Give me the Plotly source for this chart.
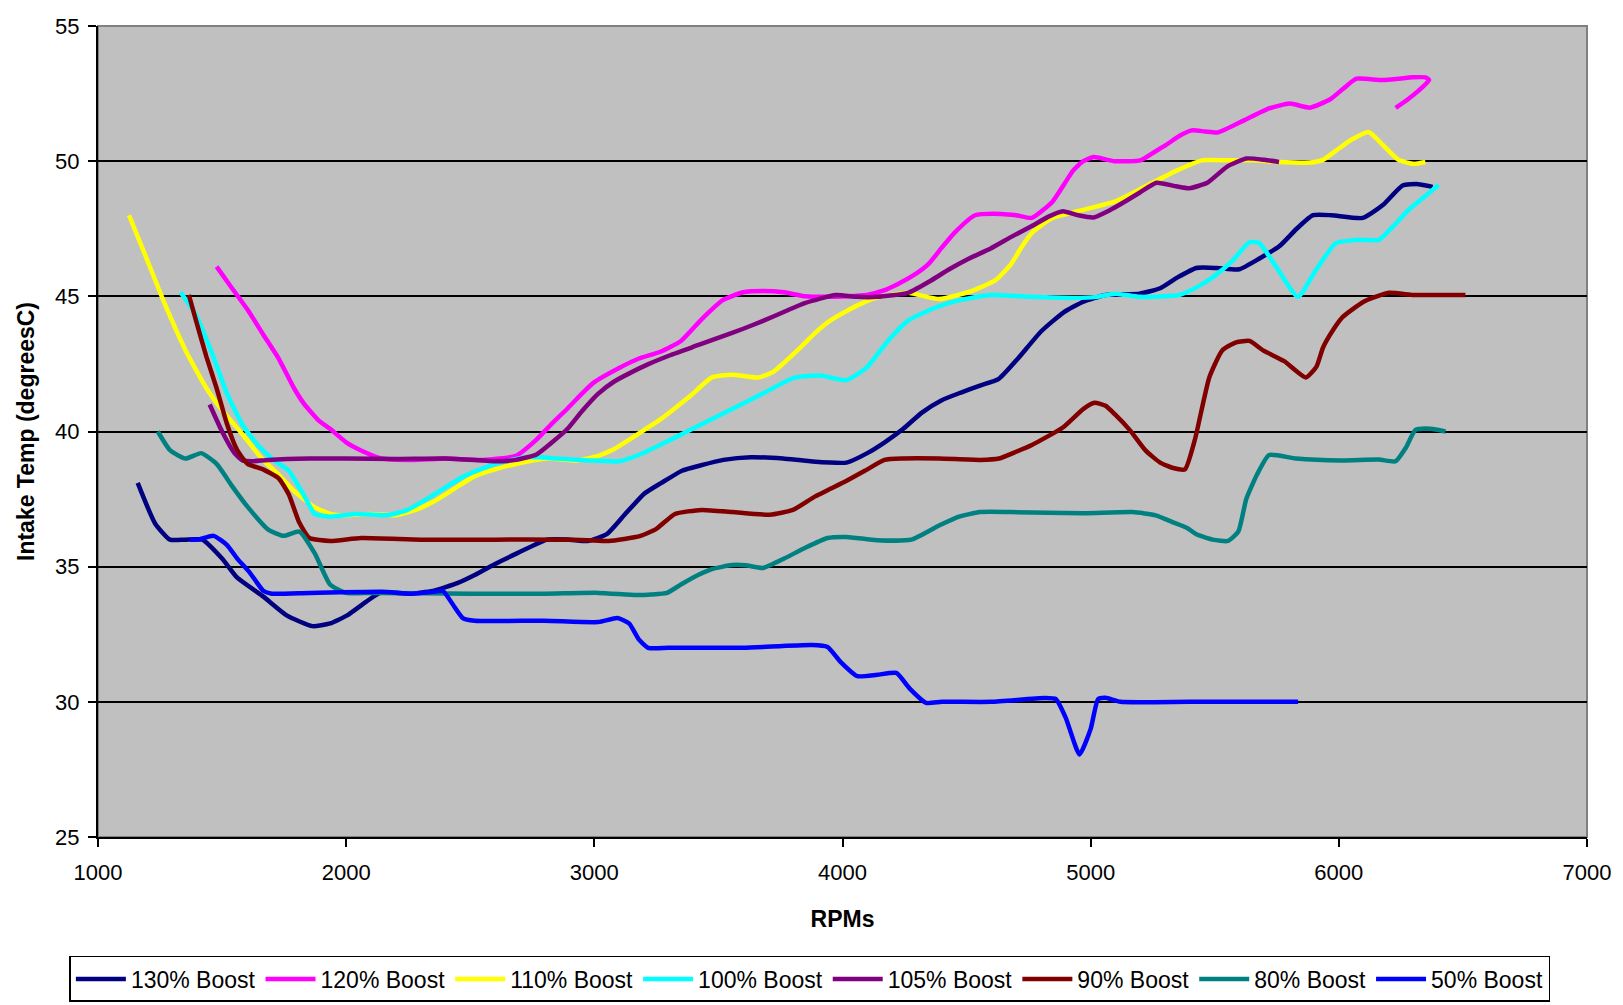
import plotly.graph_objects as go

# Intake air temperature vs engine speed for several boost settings
rpm_130 = [1160, 1230, 1290, 1350, 1420, 1500, 1560, 1665, 1760, 1864, 1935, 2004, 2080, 2140, 2250, 2350, 2450, 2520, 2600, 2690,
           2810, 2900, 2975, 3050, 3120, 3201, 3270, 3353, 3430, 3520, 3630, 3760, 3870, 4016, 4100, 4170, 4245, 4320, 4398, 4480,
           4554, 4630, 4707, 4800, 4890, 4970, 5060, 5197, 5280, 5350, 5426, 5510, 5598, 5680, 5760, 5830, 5896, 5970, 6096, 6180,
           6257, 6320, 6378]
temp_130 = [38.1, 36.6, 36.0, 36.0, 36.0, 35.3, 34.6, 33.9, 33.2, 32.8, 32.9, 33.2, 33.7, 34.05, 34.0, 34.1, 34.4, 34.7, 35.1, 35.5,
            36.0, 36.0, 35.95, 36.2, 36.9, 37.7, 38.1, 38.55, 38.75, 38.95, 39.05, 39.0, 38.9, 38.85, 39.2, 39.6, 40.1, 40.7, 41.15, 41.45,
            41.7, 41.95, 42.7, 43.7, 44.4, 44.8, 45.05, 45.1, 45.3, 45.7, 46.05, 46.05, 46.0, 46.4, 46.85, 47.5, 48.0, 48.0, 47.9, 48.4,
            49.1, 49.15, 49.05]

rpm_120 = [1478, 1540, 1603, 1665, 1728, 1790, 1832, 1890, 1935, 2000, 2060, 2143, 2268, 2400, 2550, 2684, 2767, 2830, 2892, 2950,
           2996, 3100, 3180, 3266, 3349, 3432, 3516, 3599, 3680, 3765, 3850, 3931, 4020, 4098, 4160, 4222, 4290, 4347, 4400, 4451,
           4534, 4638, 4700, 4763, 4846, 4890, 4929, 4970, 5012, 5096, 5200, 5250, 5304, 5360, 5408, 5460, 5512, 5616, 5719, 5802,
           5884, 5967, 6020, 6071, 6175, 6299, 6349, 6364, 6320, 6280, 6229]
temp_120 = [46.1, 45.3, 44.5, 43.6, 42.7, 41.6, 41.0, 40.4, 40.1, 39.6, 39.3, 39.0, 38.95, 39.0, 38.95, 39.1, 39.7, 40.3, 40.85, 41.4,
            41.8, 42.35, 42.7, 42.95, 43.35, 44.15, 44.85, 45.15, 45.2, 45.15, 45.0, 44.98, 45.0, 45.05, 45.2, 45.45, 45.8, 46.2, 46.8, 47.35,
            48.0, 48.05, 48.0, 47.9, 48.5, 49.1, 49.65, 50.0, 50.15, 50.0, 50.03, 50.3, 50.6, 50.95, 51.14, 51.1, 51.06, 51.5, 51.95, 52.13,
            51.98, 52.3, 52.7, 53.05, 53.0, 53.1, 53.1, 53.0, 52.6, 52.3, 51.97]

rpm_110 = [1125, 1187, 1270, 1353, 1437, 1499, 1582, 1665, 1728, 1790, 1873, 1935, 2000, 2100, 2200, 2280, 2351, 2430, 2518, 2600,
           2684, 2808, 2933, 3016, 3080, 3141, 3200, 3266, 3330, 3391, 3474, 3557, 3661, 3720, 3765, 3830, 3890, 3950, 4015, 4080,
           4139, 4264, 4389, 4513, 4617, 4680, 4720, 4763, 4846, 4971, 5096, 5221, 5346, 5449, 5553, 5657, 5759, 5884, 5936, 5990,
           6052, 6120, 6177, 6240, 6302, 6349]
temp_110 = [48.0, 46.6, 44.7, 43.0, 41.6, 40.8, 39.9, 38.95, 38.4, 37.8, 37.2, 36.95, 36.9, 36.95, 36.9, 37.1, 37.4, 37.85, 38.35, 38.6,
            38.8, 39.0, 38.93, 39.1, 39.35, 39.7, 40.05, 40.45, 40.9, 41.35, 42.0, 42.1, 42.0, 42.2, 42.55, 43.1, 43.65, 44.1, 44.45, 44.75,
            44.95, 45.13, 44.9, 45.17, 45.6, 46.2, 46.8, 47.35, 47.9, 48.2, 48.5, 49.07, 49.65, 50.03, 50.03, 50.03, 49.97, 49.95, 50.05, 50.4,
            50.8, 51.08, 50.6, 50.05, 49.9, 49.97]

rpm_100 = [1333, 1395, 1457, 1520, 1582, 1644, 1707, 1769, 1832, 1873, 1935, 2040, 2164, 2247, 2351, 2476, 2601, 2726, 2850, 2975,
           3100, 3183, 3308, 3432, 3557, 3682, 3806, 3910, 4015, 4098, 4181, 4264, 4368, 4472, 4597, 4763, 4929, 5024, 5100, 5197,
           5357, 5430, 5494, 5570, 5639, 5679, 5747, 5835, 5908, 5988, 6080, 6161, 6220, 6281, 6340, 6402]
temp_100 = [45.15, 44.3, 42.95, 41.4, 40.25, 39.5, 38.95, 38.55, 37.6, 36.95, 36.85, 36.95, 36.9, 37.1, 37.65, 38.35, 38.8, 39.05, 39.0, 38.93,
            38.9, 39.15, 39.7, 40.27, 40.84, 41.42, 41.99, 42.07, 41.9, 42.37, 43.33, 44.1, 44.56, 44.86, 45.05, 44.98, 44.94, 44.98, 45.1, 44.98,
            45.05, 45.35, 45.72, 46.3, 47.0, 46.97, 46.1, 44.98, 45.98, 46.97, 47.09, 47.09, 47.6, 48.2, 48.65, 49.12]

rpm_105 = [1450, 1500, 1550, 1582, 1620, 1686, 1852, 2000, 2200, 2400, 2600, 2684, 2767, 2830, 2892, 2950, 3016, 3080, 3141, 3220,
           3308, 3420, 3516, 3600, 3682, 3770, 3848, 3973, 4060, 4139, 4264, 4350, 4430, 4510, 4597, 4680, 4763, 4830, 4888, 4950,
           5012, 5080, 5137, 5200, 5265, 5345, 5398, 5470, 5550, 5627, 5700, 5759]
temp_105 = [41.0, 40.0, 39.2, 38.93, 38.9, 38.95, 39.0, 39.0, 38.98, 39.0, 38.9, 38.95, 39.15, 39.6, 40.1, 40.75, 41.4, 41.85, 42.15, 42.5,
            42.83, 43.2, 43.52, 43.8, 44.1, 44.45, 44.75, 45.05, 44.98, 44.98, 45.13, 45.55, 46.0, 46.4, 46.77, 47.2, 47.6, 47.95, 48.15, 48.0,
            47.92, 48.2, 48.5, 48.85, 49.2, 49.07, 49.0, 49.2, 49.8, 50.1, 50.05, 49.97]

rpm_90 = [1366, 1395, 1437, 1478, 1520, 1561, 1603, 1665, 1728, 1769, 1811, 1852, 1935, 2060, 2300, 2600, 2850, 2975, 3058, 3183,
          3250, 3325, 3432, 3557, 3707, 3800, 3890, 4015, 4100, 4169, 4243, 4389, 4554, 4631, 4700, 4763, 4888, 4971, 5016, 5060,
          5096, 5157, 5221, 5280, 5333, 5380, 5420, 5478, 5530, 5586, 5640, 5695, 5780, 5867, 5910, 5936, 5980, 6016, 6100, 6201,
          6300, 6400, 6510]
temp_90 = [45.05, 44.1, 42.76, 41.6, 40.27, 39.31, 38.8, 38.6, 38.27, 37.67, 36.63, 36.06, 35.95, 36.06, 36.0, 36.0, 36.0, 35.98, 35.95, 36.13,
           36.4, 36.95, 37.1, 37.02, 36.92, 37.1, 37.6, 38.17, 38.6, 38.95, 39.0, 39.0, 38.95, 39.0, 39.25, 39.5, 40.15, 40.84, 41.06, 40.95,
           40.65, 40.06, 39.3, 38.85, 38.65, 38.6, 39.7, 42.0, 43.0, 43.3, 43.35, 43.0, 42.6, 42.0, 42.4, 43.1, 43.8, 44.24, 44.8, 45.13,
           45.05, 45.05, 45.05]

rpm_80 = [1241, 1291, 1353, 1416, 1478, 1541, 1603, 1686, 1748, 1811, 1873, 1935, 1998, 2102, 2500, 2800, 3016, 3169, 3230, 3293,
          3349, 3420, 3474, 3554, 3610, 3679, 3765, 3850, 3940, 4015, 4139, 4277, 4389, 4470, 4554, 4680, 4971, 5169, 5262, 5330,
          5387, 5426, 5491, 5553, 5595, 5627, 5670, 5719, 5827, 6010, 6161, 6229, 6270, 6309, 6370, 6430]
temp_80 = [40.0, 39.3, 39.0, 39.2, 38.8, 37.97, 37.21, 36.37, 36.14, 36.3, 35.5, 34.34, 34.03, 34.03, 34.0, 34.0, 34.03, 33.95, 33.97, 34.03,
           34.34, 34.7, 34.91, 35.06, 35.05, 34.95, 35.3, 35.7, 36.06, 36.1, 35.98, 36.0, 36.52, 36.85, 37.02, 37.02, 36.98, 37.02, 36.9, 36.65,
           36.44, 36.2, 36.0, 35.95, 36.3, 37.5, 38.4, 39.13, 39.0, 38.93, 38.96, 38.9, 39.4, 40.06, 40.1, 40.0]

rpm_50 = [1370, 1404, 1466, 1520, 1561, 1610, 1667, 1700, 1852, 2143, 2268, 2351, 2390, 2430, 2470, 2518, 2800, 3016, 3093, 3140,
          3180, 3217, 3300, 3600, 3876, 3940, 3990, 4060, 4140, 4217, 4270, 4337, 4400, 4600, 4815, 4860, 4900, 4955, 5000, 5030,
          5060, 5120, 5400, 5836]
temp_50 = [36.0, 36.0, 36.14, 35.8, 35.3, 34.8, 34.1, 34.0, 34.03, 34.07, 34.0, 34.07, 34.1, 33.6, 33.1, 33.0, 33.0, 32.95, 33.1, 32.9,
           32.3, 32.0, 32.0, 32.0, 32.1, 32.03, 31.5, 30.95, 31.0, 31.07, 30.5, 29.96, 30.0, 30.0, 30.14, 30.1, 29.4, 28.05, 29.0, 30.1,
           30.15, 30.0, 30.0, 30.0]

series_names = ["130% Boost", "120% Boost", "110% Boost", "100% Boost",
                "105% Boost", "90% Boost", "80% Boost", "50% Boost"]
series_rpm = [rpm_130, rpm_120, rpm_110, rpm_100, rpm_105, rpm_90, rpm_80, rpm_50]
series_temp = [temp_130, temp_120, temp_110, temp_100, temp_105, temp_90, temp_80, temp_50]
series_colors = ["#000080", "#FF00FF", "#FFFF00", "#00FFFF",
                 "#800080", "#800000", "#008080", "#0000FF"]

x_ticks = [1000, 2000, 3000, 4000, 5000, 6000, 7000]
y_ticks = [25, 30, 35, 40, 45, 50, 55]

FONT = "Liberation Sans, Arial, sans-serif"

fig = go.Figure()
for name, xs, ys, col in zip(series_names, series_rpm, series_temp, series_colors):
    fig.add_trace(go.Scatter(
        x=xs, y=ys, name=name, mode="lines",
        line=dict(color=col, width=4.5, shape="spline", smoothing=0.5),
    ))

fig.update_layout(
    width=1623, height=1005,
    margin=dict(l=98, r=31, t=26, b=168),
    paper_bgcolor="white",
    plot_bgcolor="#C0C0C0",
    font=dict(family=FONT, size=22, color="black"),
    showlegend=True,
    legend=dict(
        orientation="h",
        xref="container", yref="container",
        x=0.499, xanchor="center",
        y=0.003, yanchor="bottom",
        bgcolor="white",
        bordercolor="black", borderwidth=1.5,
        font=dict(family=FONT, size=23, color="black"),
        itemwidth=50,
        tracegroupgap=0,
    ),
    xaxis=dict(
        range=[1000, 7000], tickvals=x_ticks, ticktext=[str(v) for v in x_ticks],
        showgrid=False, zeroline=False,
        showline=True, linecolor="black", linewidth=2,
        ticks="outside", ticklen=8, tickwidth=2, tickcolor="black",
        ticklabelstandoff=7,
        title=dict(text="<b>RPMs</b>", font=dict(family=FONT, size=23), standoff=26),
    ),
    yaxis=dict(
        range=[25, 55], tickvals=y_ticks, ticktext=[str(v) for v in y_ticks],
        showgrid=True, gridcolor="black", gridwidth=1.5,
        zeroline=False,
        showline=True, linecolor="black", linewidth=2,
        ticks="outside", ticklen=8, tickwidth=2, tickcolor="black",
        ticklabelstandoff=4,
        title=dict(text="<b>Intake Temp (degreesC)</b>", font=dict(family=FONT, size=23), standoff=14),
    ),
    shapes=[dict(type="rect", xref="paper", yref="paper", x0=0, x1=1, y0=0, y1=1,
                 line=dict(color="#808080", width=2), layer="below")],
)

fig.write_html("out.html")
